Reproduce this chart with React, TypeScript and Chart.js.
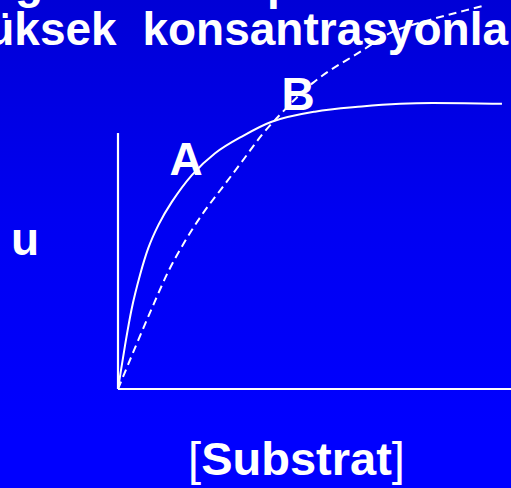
import React, { useEffect, useRef } from "react";
import { Chart, registerables } from "chart.js";

Chart.register(...registerables);

// Substrate concentration (arbitrary units) and reaction velocity for curve A (solid)
const substrateA = [0, 0.18, 0.35, 0.56, 0.77, 1.03, 1.37, 1.88, 2.47, 3.15, 3.91, 5.01, 6.2, 7.18, 8.0, 9.77];
const velocityA = [0, 1.13, 2.07, 2.93, 3.62, 4.22, 4.81, 5.5, 6.06, 6.49, 6.87, 7.13, 7.26, 7.33, 7.35, 7.33];

// Curve B (dashed)
const substrateB = [0, 0.43, 0.86, 1.28, 1.7, 2.13, 2.64, 3.15, 3.66, 4.0, 4.96, 6.23, 6.92, 7.94, 9.29];
const velocityB = [0, 1.05, 2.07, 3.02, 3.79, 4.47, 5.16, 5.84, 6.53, 6.92, 7.87, 8.71, 9.15, 9.49, 9.85];

// Axis extents
const xAxisEnd = 10.2;
const yAxisTop = 6.58;

const curveLabels = ["A", "B"];
const xLabel = "Substrat";
const yLabel = "u";
const headline = "yüksek konsantrasyonla";

const FONT = "'Liberation Sans', Arial, sans-serif";

function toPoints(xs: number[], ys: number[]) {
  return xs.map((x, i) => ({ x, y: ys[i] }));
}

export default function App() {
  const canvasRef = useRef<HTMLCanvasElement | null>(null);

  useEffect(() => {
    const canvas = canvasRef.current;
    if (!canvas) return;
    const chart = new Chart(canvas, {
      type: "line",
      data: {
        datasets: [
          {
            label: "x-axis",
            data: [{ x: 0, y: 0 }, { x: xAxisEnd, y: 0 }],
            borderColor: "#ffffff",
            borderWidth: 2.2,
            pointRadius: 0,
            tension: 0,
            clip: false,
          },
          {
            label: "y-axis",
            data: [{ x: 0, y: 0 }, { x: 0, y: yAxisTop }],
            borderColor: "#ffffff",
            borderWidth: 2.2,
            pointRadius: 0,
            tension: 0,
            clip: false,
          },
          {
            label: curveLabels[0],
            data: toPoints(substrateA, velocityA),
            borderColor: "#ffffff",
            borderWidth: 2,
            pointRadius: 0,
            cubicInterpolationMode: "monotone",
            clip: false,
          },
          {
            label: curveLabels[1],
            data: toPoints(substrateB, velocityB),
            borderColor: "#ffffff",
            borderWidth: 2,
            borderDash: [8, 5],
            pointRadius: 0,
            cubicInterpolationMode: "monotone",
            clip: false,
          },
        ],
      },
      options: {
        animation: false,
        responsive: false,
        events: [],
        layout: { padding: { left: 118, right: 0, top: 0, bottom: 99 } },
        scales: {
          x: { type: "linear", min: 0, max: 10, display: false },
          y: { type: "linear", min: 0, max: 10, display: false },
        },
        plugins: {
          legend: { display: false },
          tooltip: { enabled: false },
          title: { display: false },
        },
      },
    });
    return () => chart.destroy();
  }, []);

  const text = (
    content: string,
    left: number,
    baseline: number,
    size: number,
    extra: React.CSSProperties = {}
  ) => (
    <div
      style={{
        position: "absolute",
        left,
        top: baseline - 0.8465 * size,
        fontFamily: FONT,
        fontWeight: 700,
        fontSize: size,
        lineHeight: `${size}px`,
        color: "#ffffff",
        whiteSpace: "nowrap",
        ...extra,
      }}
    >
      {content}
    </div>
  );

  return (
    <div
      style={{
        position: "fixed",
        left: 0,
        top: 0,
        width: 511,
        height: 488,
        overflow: "hidden",
        background: "linear-gradient(to bottom, #0000d6 0%, #0000f2 45%, #0000ff 90%)",
      }}
    >
      {/* descenders of the line above */}
      {text("g", 15, -2, 46)}
      {text("p", 267, -1, 46)}
      <div
        style={{
          position: "absolute",
          right: 3,
          top: 45 - 0.8465 * 46,
          fontFamily: FONT,
          fontWeight: 700,
          fontSize: 46,
          lineHeight: "46px",
          wordSpacing: 13,
          color: "#ffffff",
          whiteSpace: "nowrap",
        }}
      >
        {headline}
      </div>
      {text(yLabel, 11, 255, 46)}
      {text(curveLabels[0], 169.5, 175, 46)}
      {text(curveLabels[1], 281.5, 110, 46)}
      <div
        style={{
          position: "absolute",
          left: 296.5,
          top: 475 - 0.8465 * 47,
          transform: "translateX(-50%)",
          fontFamily: FONT,
          fontSize: 47,
          lineHeight: "47px",
          color: "#ffffff",
          whiteSpace: "nowrap",
        }}
      >
        <span style={{ fontWeight: 400 }}>[</span>
        <span style={{ fontWeight: 700 }}>{xLabel}</span>
        <span style={{ fontWeight: 400 }}>]</span>
      </div>
      <canvas
        ref={canvasRef}
        width={511}
        height={488}
        style={{ position: "absolute", left: 0, top: 0, width: 511, height: 488 }}
      />
    </div>
  );
}
